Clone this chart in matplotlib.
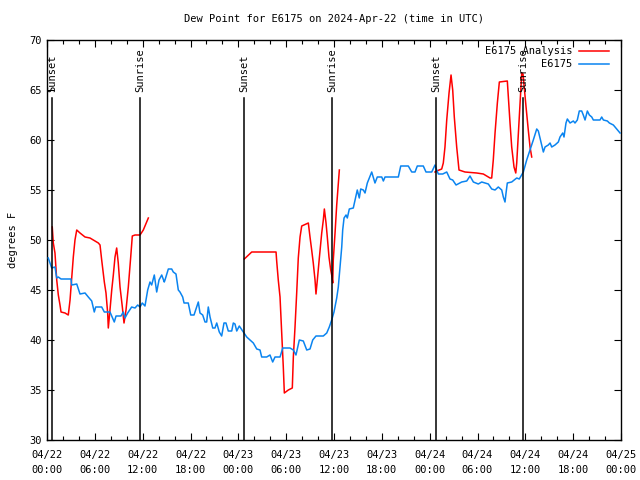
import datetime as dt
import matplotlib
matplotlib.use("Agg")
import matplotlib.pyplot as plt
import matplotlib.dates as mdates
import numpy as np

START = dt.datetime(2024, 4, 22, 0, 0)

# Observed dew point (E6175): hours after start, degrees F
obs_hours = [0.16, 0.59, 1.00, 1.22, 1.42, 1.76, 3.01, 3.10, 3.73, 4.14, 4.77, 5.18, 5.61, 5.93,
             6.11, 6.86, 7.19, 7.90, 8.12, 8.44, 8.66, 9.28, 9.57, 9.78, 10.12, 10.62, 11.04,
             11.38, 11.67, 11.95, 12.29, 12.63, 12.92, 13.13, 13.46, 13.76, 14.05, 14.39, 14.71,
             14.80, 15.22, 15.64, 15.84, 16.18, 16.47, 16.68, 17.02, 17.19, 17.72, 18.03, 18.44,
             18.78, 18.98, 19.19, 19.53, 19.82, 20.03, 20.23, 20.45, 20.79, 21.07, 21.29, 21.61,
             21.91, 22.20, 22.45, 22.74, 23.17, 23.37, 23.58, 23.80, 24.12, 24.62, 25.05, 25.46,
             25.88, 26.31, 26.72, 26.93, 27.56, 27.97, 28.31, 28.60, 29.23, 29.57, 30.48, 30.90,
             31.23, 31.65, 32.15, 32.58, 32.99, 33.33, 33.74, 34.66, 35.09, 35.41, 35.71, 36.00,
             36.34, 36.54, 36.75, 36.97, 37.09, 37.26, 37.51, 37.67, 37.92, 38.42, 38.64, 38.92,
             39.17, 39.35, 39.68, 39.89, 40.18, 40.73, 41.14, 41.43, 41.99, 42.19, 42.40, 44.07,
             44.37, 45.32, 45.75, 46.16, 46.45, 47.20, 47.54, 48.26, 48.67, 48.88, 49.09, 49.64,
             50.14, 50.55, 50.89, 51.31, 52.02, 52.65, 53.06, 53.48, 54.10, 54.53, 54.94, 55.36,
             55.78, 56.20, 56.61, 57.04, 57.24, 57.45, 57.58, 57.74, 58.29, 58.92, 59.24, 59.75,
             60.17, 60.59, 61.00, 61.43, 61.63, 61.84, 62.05, 62.26, 62.47, 62.88, 63.10, 63.31,
             63.72, 64.14, 64.35, 64.69, 64.85, 65.10, 65.27, 65.61, 66.02, 66.23, 66.52, 66.77,
             67.07, 67.27, 67.49, 67.78, 68.03, 68.33, 68.53, 69.37, 69.58, 69.79, 70.29, 70.54,
             71.04, 71.46, 71.88]
obs_values = [48.2, 47.2, 47.3, 46.2, 46.3, 46.1, 46.1, 45.5, 45.6, 44.6, 44.7, 44.3, 43.9, 42.8,
              43.3, 43.3, 42.8, 42.8, 42.4, 41.8, 42.4, 42.4, 42.8, 42.2, 42.7, 43.3, 43.2,
              43.5, 43.3, 43.7, 43.4, 45.0, 45.8, 45.5, 46.5, 44.8, 46.0, 46.5, 45.8,
              46.0, 47.1, 47.1, 46.8, 46.6, 45.0, 44.8, 44.3, 43.7, 43.7, 42.5, 42.5,
              43.3, 43.8, 42.7, 42.5, 41.8, 41.8, 43.3, 42.3, 41.2, 41.2, 41.7, 40.8,
              40.4, 41.7, 41.7, 40.9, 40.9, 41.7, 41.6, 40.9, 41.4, 40.8, 40.3, 40.0,
              39.7, 39.1, 39.0, 38.3, 38.3, 38.5, 37.8, 38.3, 38.3, 39.2, 39.2, 39.0,
              38.5, 40.0, 39.9, 39.0, 39.1, 40.0, 40.4, 40.4, 40.7, 41.3, 42.0, 42.8,
              44.2, 45.3, 47.3, 49.3, 51.0, 52.2, 52.5, 52.2, 53.1, 53.2, 54.0, 55.0,
              54.2, 55.1, 55.0, 54.7, 55.7, 56.8, 55.7, 56.3, 56.3, 55.9, 56.3, 56.3,
              57.4, 57.4, 56.8, 56.8, 57.4, 57.4, 56.8, 56.8, 57.5, 57.0, 56.6, 56.6,
              56.8, 56.1, 56.0, 55.5, 55.8, 55.9, 56.4, 55.8, 55.6, 55.8, 55.7, 55.6,
              55.1, 55.0, 55.3, 55.0, 54.3, 53.8, 54.7, 55.7, 55.8, 56.2, 56.1, 56.8,
              58.0, 59.0, 60.0, 61.1, 60.9, 60.2, 59.5, 58.8, 59.3, 59.5, 59.7, 59.3,
              59.5, 59.8, 60.3, 60.7, 60.3, 61.7, 62.1, 61.7, 61.9, 61.7, 62.0, 62.9,
              62.9, 62.5, 62.0, 62.9, 62.5, 62.3, 62.0, 62.0, 62.3, 62.0, 61.9, 61.7,
              61.5, 61.1, 60.7]

# Analysis dew point (E6175 Analysis), three nightly segments
ana1_hours = [0.66, 0.79, 1.00, 1.22, 1.42, 1.63, 1.76, 2.26, 2.67, 2.89, 3.10, 3.30, 3.51, 3.73,
              4.14, 4.77, 5.39, 6.02, 6.44, 6.65, 6.86, 7.19, 7.40, 7.61, 7.69, 7.90, 8.12,
              8.32, 8.53, 8.74, 8.94, 9.16, 9.45, 9.66, 9.91, 10.20, 10.50, 10.70, 11.04,
              11.67, 12.08, 12.71]
ana1_values = [51.3, 49.7, 48.7, 46.0, 44.5, 43.5, 42.8, 42.7, 42.5, 44.0, 46.2, 48.3, 50.0, 51.0,
               50.7, 50.3, 50.2, 49.9, 49.7, 49.5, 48.0, 45.8, 44.7, 42.7, 41.2, 43.0, 45.0,
               46.5, 48.3, 49.2, 47.7, 45.3, 43.3, 41.7, 43.0, 45.3, 48.3, 50.4, 50.5,
               50.5, 51.0, 52.2]
ana2_hours = [24.75, 25.68, 28.73, 28.81, 29.01, 29.23, 29.44, 29.64, 29.77, 30.27, 30.77, 30.90,
              31.11, 31.32, 31.52, 31.74, 31.95, 32.78, 32.99, 33.20, 33.40, 33.62, 33.74,
              33.91, 34.16, 34.46, 34.66, 34.79, 35.00, 35.16, 35.37, 35.59, 35.71, 35.84,
              35.91, 36.13, 36.34, 36.67]
ana2_values = [48.1, 48.8, 48.8, 47.9, 46.0, 44.3, 40.7, 37.3, 34.7, 35.0, 35.2, 38.3,
               41.3, 44.7, 48.2, 50.3, 51.4, 51.7, 50.3, 49.0, 47.7, 46.0, 44.6,
               46.0, 48.2, 50.7, 52.0, 53.1, 51.7, 50.3, 48.3, 47.0, 46.5, 45.7,
               48.0, 50.7, 53.5, 57.0]
ana3_hours = [48.67, 48.88, 49.51, 49.71, 49.92, 50.14, 50.43, 50.68, 50.89, 51.09, 51.39, 51.68,
              52.43, 53.90, 54.73, 55.57, 55.78, 55.98, 56.20, 56.49, 56.74, 57.74, 57.87,
              58.08, 58.29, 58.58, 58.80, 58.92, 59.13, 59.34, 59.55, 59.71, 59.87, 60.09,
              60.37, 60.59, 60.80]
ana3_values = [56.8, 56.9, 57.1, 57.7, 59.3, 62.0, 64.7, 66.5, 65.0, 62.3, 59.3, 57.0,
               56.8, 56.7, 56.6, 56.2, 56.2, 58.0, 60.7, 63.7, 65.8, 65.9, 64.3,
               61.7, 59.3, 57.3, 56.7, 57.7, 60.7, 63.7, 66.7, 66.6, 65.2, 63.3,
               61.0, 59.3, 58.3]

# Sun events (hours after start)
sun_hours = [0.66, 11.67, 24.72, 35.80, 48.80, 59.75]
sun_labels = ["Sunset", "Sunrise", "Sunset", "Sunrise", "Sunset", "Sunrise"]

TITLE = "Dew Point for E6175 on 2024-Apr-22 (time in UTC)"
YLABEL = "degrees F"


def to_dt(hours):
    return [START + dt.timedelta(hours=h) for h in hours]


FONT = "DejaVu Sans Mono"
FS = 7.5
plt.rcParams["font.family"] = FONT

fig = plt.figure(figsize=(6.4, 4.8), dpi=100)
ax = fig.add_axes([47 / 640, 40 / 480, 574 / 640, 400 / 480])

red = "#ff0000"
blue = "#0a84f0"

first = True
for hs, vs in [(ana1_hours, ana1_values), (ana2_hours, ana2_values), (ana3_hours, ana3_values)]:
    ax.plot(to_dt(hs), vs, color=red, lw=1.1, zorder=2,
            label="E6175 Analysis" if first else None)
    first = False
ax.plot(to_dt(obs_hours), obs_values, color=blue, lw=1.1, zorder=3, label="E6175")

for h, lab in zip(sun_hours, sun_labels):
    t = START + dt.timedelta(hours=h)
    ax.plot([t, t], [30, 64.15], color="black", lw=1.1, zorder=4)
    ax.text(t, 64.75, lab, rotation=90, ha="center", va="bottom", fontsize=FS,
            family=FONT, zorder=5)

ax.set_xlim(START, START + dt.timedelta(hours=72))
ax.set_ylim(30, 70)
ax.set_yticks(np.arange(30, 71, 5))
ax.xaxis.set_major_locator(mdates.HourLocator(byhour=range(0, 24, 6)))
ax.xaxis.set_minor_locator(mdates.HourLocator(byhour=range(0, 24, 2)))
ax.xaxis.set_major_formatter(mdates.DateFormatter("%m/%d\n%H:%M"))

ax.tick_params(which="both", direction="in", top=True, right=True, labelsize=FS,
               width=0.8, color="black")
ax.tick_params(which="major", length=5, pad=7)
ax.tick_params(which="minor", length=3)
ax.tick_params(axis="y", pad=4)
for lab in ax.get_xticklabels():
    lab.set_linespacing(1.6)
for sp in ax.spines.values():
    sp.set_linewidth(1.0)

ax.set_title(TITLE, fontsize=FS, pad=13)
ax.set_ylabel(YLABEL, fontsize=FS, labelpad=8)

ax.legend(loc="upper right", bbox_to_anchor=(1 - 7 / 574, 1 - 1 / 400), frameon=False,
          markerfirst=False, fontsize=FS, handlelength=2.9, handletextpad=0.6,
          labelspacing=0.3, borderaxespad=0.3, borderpad=0.2)

fig.savefig("out.png", dpi=100)
